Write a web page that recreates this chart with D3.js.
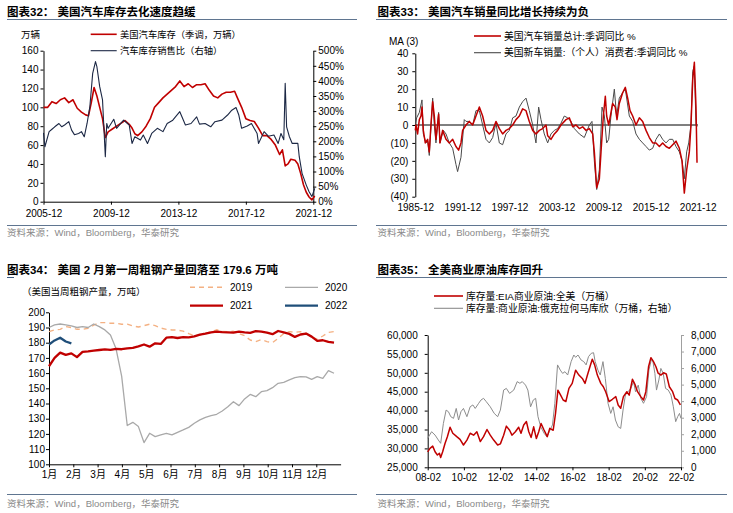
<!DOCTYPE html>
<html><head><meta charset="utf-8">
<script src="https://cdn.jsdelivr.net/npm/d3@7"></script>
<style>body{margin:0;background:#fff}svg{display:block}</style>
</head><body><svg id="c" width="733" height="513"></svg>
<script>
// ---------------- DATA ----------------
// Panel 1: US auto inventory (万辆) and inventory/sales ratio (%)
const p1InvDates = ["2005-12","2006-03","2006-06","2006-09","2006-12","2007-03","2007-06","2007-09","2007-12","2008-03","2008-06","2008-08","2008-10","2008-12","2009-02","2009-04","2009-06","2009-08","2009-10","2010-01","2010-04","2010-07","2010-10","2011-01","2011-03","2011-05","2011-07","2011-10","2012-01","2012-04","2012-07","2012-10","2013-01","2013-04","2013-07","2013-10","2014-01","2014-04","2014-07","2014-10","2015-01","2015-04","2015-07","2015-10","2016-01","2016-04","2016-07","2016-10","2017-01","2017-04","2017-06","2017-09","2017-12","2018-03","2018-06","2018-09","2018-12","2019-03","2019-06","2019-09","2019-12","2020-02","2020-04","2020-06","2020-08","2020-11","2021-01","2021-03","2021-05","2021-07","2021-09","2021-11","2022-01"];
const p1Inventory = [100,100,106,104,108,110,105,108,99,95,92,91,105,121,112,100,88,68,74,77,80,83,86,82,78,72,70,74,80,88,100,105,110,114,118,122,128,122,125,121,124,124,125,118,112,110,114,116,116,117,110,100,88,86,85,78,70,70,66,60,50,55,38,40,45,44,40,30,18,10,5,2,6];
const p1RatioDates = ["2005-12","2006-01","2006-04","2006-06","2006-08","2006-11","2007-01","2007-03","2007-06","2007-08","2007-10","2008-01","2008-03","2008-05","2008-07","2008-09","2008-11","2009-01","2009-02","2009-04","2009-06","2009-08","2009-09","2009-10","2010-02","2010-04","2010-07","2010-09","2011-01","2011-03","2011-05","2011-09","2011-11","2012-02","2012-05","2012-09","2013-01","2013-04","2013-08","2014-01","2014-05","2014-09","2015-01","2015-03","2015-07","2015-11","2016-02","2016-07","2016-11","2017-02","2017-05","2017-07","2017-09","2018-01","2018-04","2018-08","2018-09","2019-01","2019-04","2019-08","2019-11","2020-01","2020-03","2020-04","2020-05","2020-07","2020-09","2021-01","2021-02","2021-04","2021-07","2021-09","2021-11","2022-01"];
const p1Ratio = [228,182,232,240,248,259,248,254,265,237,222,226,232,215,259,315,425,464,447,381,337,149,259,243,273,243,259,270,254,193,215,204,221,193,226,243,232,259,270,298,254,259,281,257,259,248,265,270,287,303,312,287,243,251,259,226,193,232,217,221,193,226,205,392,248,215,193,193,149,94,55,33,17,44];
const p1XTicks = ["2005-12","2009-12","2013-12","2017-12","2021-12"];

// Panel 2: US auto sales YoY (3M MA, %), decimal years
const p2TotalT = [1985.92,1986.00,1986.21,1986.43,1986.64,1986.77,1986.94,1987.19,1987.49,1987.70,1987.91,1988.13,1988.34,1988.55,1988.89,1989.06,1989.40,1989.83,1990.25,1990.68,1991.10,1991.44,1991.74,1991.95,1992.38,1992.80,1993.23,1993.65,1994.08,1994.50,1994.93,1995.35,1995.78,1996.20,1996.63,1997.05,1997.48,1997.90,1998.33,1998.75,1999.18,1999.60,2000.03,2000.45,2000.88,2001.30,2001.73,2002.15,2002.58,2002.79,2003.21,2003.64,2004.06,2004.49,2005.13,2005.55,2005.98,2006.40,2006.83,2007.25,2007.68,2008.10,2008.53,2008.74,2009.04,2009.38,2009.59,2009.89,2010.14,2010.31,2010.57,2010.78,2011.07,2011.41,2011.63,2011.92,2012.35,2012.69,2012.99,2013.29,2013.63,2014.05,2014.48,2014.90,2015.33,2015.75,2016.18,2016.60,2017.03,2017.45,2017.88,2018.30,2018.73,2019.15,2019.58,2019.92,2020.21,2020.51,2020.85,2021.06,2021.28,2021.49,2021.70,2021.83];
const p2Total = [-3,0,-5,3,5,10,-3,-10,-8,-15,0,13,5,-8,6,-10,-3,-8,-10,-8,-12,-14,-10,-3,0,2,0,5,10,5,-3,-5,-3,2,-2,-5,-3,-2,0,3,5,9,8,2,-3,-5,-3,-2,0,-6,-8,-5,-3,0,3,4,-1,0,-2,-1,-3,-2,-5,-15,-35,-30,-15,5,16,5,0,5,12,10,3,12,18,21,15,8,5,0,4,2,-3,-7,-10,-10,-12,-10,-12,-13,-11,-9,-13,-20,-38,-25,-15,0,25,35,10,-21];
const p2ConsT = [1985.92,1986.09,1986.43,1986.77,1986.94,1987.28,1987.49,1987.70,1988.13,1988.34,1988.55,1988.89,1989.06,1989.49,1989.83,1990.25,1990.68,1991.10,1991.31,1991.74,1992.16,1992.38,1992.80,1993.23,1993.65,1994.08,1994.50,1994.93,1995.35,1995.78,1996.20,1996.63,1997.05,1997.48,1997.90,1998.33,1998.75,1999.18,1999.60,2000.03,2000.45,2000.88,2001.30,2001.64,2001.94,2002.36,2002.79,2003.21,2003.64,2004.06,2004.49,2004.91,2005.34,2005.76,2006.19,2006.83,2007.46,2008.10,2008.44,2008.74,2009.04,2009.38,2009.72,2010.02,2010.31,2010.57,2010.86,2011.29,2011.58,2011.92,2012.35,2012.69,2013.20,2013.63,2014.05,2014.48,2014.90,2015.33,2015.75,2016.18,2016.60,2017.03,2017.45,2017.88,2018.30,2018.73,2019.15,2019.58,2019.92,2020.21,2020.51,2020.77,2021.06,2021.28,2021.49,2021.70,2021.83];
const p2Cons = [0,4,7,14,-5,-10,-9,-17,15,0,-10,7,-10,-3,-5,-10,-13,-22,-26,-18,3,2,2,0,8,8,0,-8,-10,-7,1,-10,-11,-5,-3,4,5,10,13,15,8,0,-10,10,3,-5,-10,-5,-3,-2,1,5,4,2,-2,-5,-7,0,2,-20,-36,-25,10,5,-10,-8,5,20,5,15,18,20,5,2,-5,-8,-10,-12,-14,-13,-8,-5,-8,-10,-8,-8,-12,-15,-20,-30,-15,-10,0,30,33,0,-1];
const p2XTicks = ["1985-12","1991-12","1997-12","2003-12","2009-12","2015-12","2021-12"];

// Panel 3: US weekly crude steel output (万吨), week index from Jan 1
const p3Y2019 = [187.3,188.4,188.8,190.6,190,188.8,188.8,189.5,191.5,193.2,193.2,192.8,192.8,192.1,192.2,191,190.3,191.2,192.2,191.2,189.6,188.8,188.4,188.3,187.6,186,184.6,185,186.3,187,188.5,187.4,187.3,187.5,186,184.6,181.8,180.7,182,180.7,180.1,182.8,186,187.3,186.8,187.3,186.2,183.8,182.3,184.4,186.8,187.3];
const p3Y2020 = [190,191.7,192.3,191.7,191,190,190.6,190,192.3,190.6,188.4,185.1,176,158,125.5,127.6,124.8,114.3,120.4,118.2,119.3,120.4,119.3,121,122.6,124.3,127,129.2,130.9,132,132.9,135.1,137.9,141.2,138.6,143,146,144.5,147.8,148.5,150.4,153.3,153.9,155.5,157,157.7,157.5,155.9,157.7,156.6,161.6,159.9];
const p3Y2021 = [164.5,170,173.5,172,173,170.5,174,174.3,174.8,175.2,175.6,175.3,176,175.7,176.3,176.6,177.6,178.8,177.4,179.6,179.2,183.3,183.6,183.1,183.6,183.5,184.2,185.3,186,186.8,187.3,187,186.8,186.6,187.3,186.8,186.5,187.6,187.3,186.6,185.6,187.7,186.8,185.8,183.8,185.4,186,184,181.2,181.6,180.5,180];
const p3Y2022 = [178.8,181.5,183.3,180.8,179.6];
const p3Months = ["1月","2月","3月","4月","5月","6月","7月","8月","9月","10月","11月","12月"];

// Panel 4: US commercial crude stocks (万桶) and Cushing (万桶, right axis), decimal years
const p4UsT = [2008.08,2008.21,2008.36,2008.49,2008.62,2008.73,2008.80,2008.91,2009.04,2009.17,2009.32,2009.47,2009.69,2009.87,2010.06,2010.25,2010.43,2010.62,2010.80,2010.99,2011.17,2011.36,2011.54,2011.73,2011.95,2012.10,2012.28,2012.43,2012.61,2012.74,2012.93,2013.11,2013.24,2013.39,2013.54,2013.67,2013.80,2013.94,2014.09,2014.22,2014.35,2014.50,2014.69,2014.83,2015.02,2015.15,2015.28,2015.43,2015.57,2015.72,2015.89,2016.07,2016.26,2016.44,2016.63,2016.78,2016.90,2017.05,2017.18,2017.31,2017.46,2017.65,2017.79,2017.92,2018.11,2018.29,2018.48,2018.61,2018.75,2018.90,2019.09,2019.22,2019.40,2019.55,2019.68,2019.86,2020.01,2020.14,2020.29,2020.42,2020.57,2020.70,2020.82,2020.97,2021.12,2021.27,2021.44,2021.62,2021.75,2021.90,2022.05];
const p4Us = [29100,30000,30600,29100,28250,28700,27600,29100,31300,33100,35600,34000,33100,32400,30900,32200,34000,33500,34400,31800,33100,35000,33500,32200,30900,31200,33500,35900,34800,33500,34400,35600,34000,36200,37100,34400,32900,35700,32600,34400,36600,35000,33100,35300,34800,39300,45400,44100,42800,42400,45900,47200,50700,49400,48500,47200,49200,51600,53600,52100,49400,47200,46300,45000,42400,43000,43700,41500,40600,43700,45000,44100,48300,46800,45000,43700,42800,45000,51600,54000,52900,51600,49900,49400,50000,49700,46300,45000,43200,42800,41500];
const p4CushT = [2008.08,2008.30,2008.49,2008.67,2008.80,2008.95,2009.10,2009.23,2009.36,2009.51,2009.66,2009.79,2009.92,2010.06,2010.25,2010.43,2010.58,2010.71,2010.90,2011.03,2011.17,2011.32,2011.54,2011.76,2011.95,2012.10,2012.28,2012.43,2012.61,2012.84,2013.03,2013.18,2013.31,2013.49,2013.62,2013.77,2013.92,2014.05,2014.18,2014.33,2014.52,2014.67,2014.80,2014.98,2015.11,2015.26,2015.41,2015.54,2015.67,2015.82,2016.01,2016.16,2016.26,2016.39,2016.56,2016.71,2016.84,2016.97,2017.12,2017.25,2017.34,2017.49,2017.62,2017.77,2017.90,2018.05,2018.20,2018.33,2018.46,2018.61,2018.75,2018.88,2019.01,2019.16,2019.31,2019.46,2019.57,2019.72,2019.86,2020.01,2020.18,2020.31,2020.42,2020.51,2020.64,2020.73,2020.86,2020.97,2021.10,2021.23,2021.38,2021.53,2021.66,2021.79,2021.90,2022.00,2022.08];
const p4Cush = [1750,2150,1950,1650,1450,2650,3460,3360,3060,2960,3560,2860,3360,3560,3060,3660,3770,3560,3870,4070,4170,3970,3660,3260,3060,3460,4670,4770,4470,4670,5180,5080,5180,4970,4670,3660,4070,4170,3060,2450,2050,1850,2150,2560,3870,6190,5880,5680,5780,5580,6390,6790,6650,6790,6490,6390,6190,6690,6890,6930,6390,5880,5580,6390,5380,3870,3260,3660,2860,2450,2350,3460,4370,4570,4770,5180,4570,4970,4170,3870,4270,5880,6390,6530,5680,4670,5280,5980,5680,4770,4670,4370,3660,2760,3060,3260,2960];
const p4XTicks = ["08-02","10-02","12-02","14-02","16-02","18-02","20-02","22-02"];

// ---------------- HELPERS ----------------
const svg = d3.select('#c');
const FONT = "'Liberation Sans','Noto Sans CJK SC',sans-serif";
const SEP = '#5f7590';
const RED = '#c00000';

function txt(x, y, s, o = {}) {
  return svg.append('text').attr('x', x).attr('y', y).text(s)
    .attr('font-family', FONT).attr('font-size', o.size || 10)
    .attr('font-weight', o.weight || 'normal').attr('fill', o.fill || '#000')
    .attr('text-anchor', o.anchor || 'start');
}
function seg(x1, y1, x2, y2, color, w, dash) {
  const l = svg.append('line').attr('x1', x1).attr('y1', y1).attr('x2', x2).attr('y2', y2)
    .attr('stroke', color).attr('stroke-width', w || 1);
  if (dash) l.attr('stroke-dasharray', dash);
  return l;
}
function styleAxis(g, color, size) {
  g.selectAll('path,line').attr('stroke', color || '#000').attr('stroke-width', 1);
  g.selectAll('text').attr('font-family', FONT).attr('font-size', size || 10).attr('fill', '#000');
}
function path(xs, ys, x, y, color, w, dash) {
  const pts = xs.map((t, i) => [x(t), y(ys[i])]);
  const p = svg.append('path').attr('d', d3.line()(pts)).attr('fill', 'none')
    .attr('stroke', color).attr('stroke-width', w).attr('stroke-linejoin', 'round');
  if (dash) p.attr('stroke-dasharray', dash);
  return p;
}
const ym = s => { const [a, b] = s.split('-').map(Number); return a + (b - 1) / 12; };
const yy = s => { const [a, b] = s.split('-').map(Number); return 2000 + a + (b - 1) / 12; };
const SRC = '资料来源：Wind，Bloomberg，华泰研究';

// ---------------- FRAMES ----------------
txt(7, 16, '图表32：  美国汽车库存去化速度趋缓', {size: 11.5, weight: 'bold'});
seg(7, 19.5, 357, 19.5, SEP, 1);
seg(7, 225.5, 357, 225.5, SEP, 1);
txt(7, 235.5, SRC, {size: 9.5, fill: '#8a8a8a'});

txt(377.5, 16, '图表33：  美国汽车销量同比增长持续为负', {size: 11.5, weight: 'bold'});
seg(376, 19.5, 727, 19.5, SEP, 1);
seg(376, 225.5, 727, 225.5, SEP, 1);
txt(377.5, 235.5, SRC, {size: 9.5, fill: '#8a8a8a'});

txt(7, 274, '图表34：  美国 2 月第一周粗钢产量回落至 179.6 万吨', {size: 11.5, weight: 'bold'});
seg(7, 277.5, 14, 277.5, '#3d5a80', 1);
seg(7, 494.5, 357, 494.5, SEP, 1);
txt(7, 507, SRC, {size: 9.5, fill: '#8a8a8a'});

txt(377.5, 274, '图表35：  全美商业原油库存回升', {size: 11.5, weight: 'bold'});
seg(376, 277.5, 727, 277.5, SEP, 1);
seg(376, 494.5, 727, 494.5, SEP, 1);
txt(377.5, 507, SRC, {size: 9.5, fill: '#8a8a8a'});

// ---------------- PANEL 1 ----------------
{
  const x = d3.scaleLinear().domain([ym('2005-12'), ym('2021-12')]).range([43.5, 313.3]);
  const yL = d3.scaleLinear().domain([0, 160]).range([201.7, 50.7]);
  const yR = d3.scaleLinear().domain([0, 500]).range([201.7, 50.7]);
  let g = svg.append('g').attr('transform', 'translate(43.5,0)')
    .call(d3.axisLeft(yL).tickValues(d3.range(0, 161, 20)).tickSize(3).tickSizeOuter(0).tickPadding(2));
  styleAxis(g);
  g = svg.append('g').attr('transform', 'translate(313.3,0)')
    .call(d3.axisRight(yR).tickValues(d3.range(0, 501, 50)).tickSize(3).tickSizeOuter(0).tickPadding(2).tickFormat(d => d + '%'));
  styleAxis(g);
  g = svg.append('g').attr('transform', 'translate(0,201.7)')
    .call(d3.axisBottom(x).tickValues(p1XTicks.map(ym)).tickSize(3).tickSizeOuter(0).tickPadding(5).tickFormat((d, i) => p1XTicks[i]));
  styleAxis(g);
  path(p1InvDates.map(ym), p1Inventory, x, yL, RED, 1.6);
  path(p1RatioDates.map(ym), p1Ratio, x, yR, '#1c2845', 1.1);
  txt(21, 38, '万辆', {size: 9.5});
  seg(90.7, 34.3, 116.7, 34.3, RED, 1.6);
  txt(120, 37.6, '美国汽车库存（季调，万辆）', {size: 9.3});
  seg(90.7, 50.7, 116.7, 50.7, '#1c2845', 1.1);
  txt(120, 54, '汽车库存销售比（右轴）', {size: 9.3});
}

// ---------------- PANEL 2 ----------------
{
  const x = d3.scaleLinear().domain([ym('1985-12'), ym('2021-12')]).range([415.3, 697.7]);
  const y = d3.scaleLinear().domain([-40, 40]).range([196.7, 53.3]);
  let g = svg.append('g').attr('transform', 'translate(415.3,0)')
    .call(d3.axisLeft(y).tickValues(d3.range(-40, 41, 10)).tickSize(3).tickSizeOuter(0).tickPadding(4)
      .tickFormat(d => d < 0 ? '(' + (-d) + ')' : String(d)));
  styleAxis(g);
  g = svg.append('g').attr('transform', 'translate(0,201)')
    .call(d3.axisBottom(x).tickValues(p2XTicks.map(ym)).tickSize(0).tickPadding(3).tickFormat((d, i) => p2XTicks[i]));
  g.select('.domain').remove();
  styleAxis(g);
  seg(415.3, y(0), 698, y(0), '#000', 1);
  path(p2ConsT, p2Cons, x, y, '#4a4a4a', 1.0);
  path(p2TotalT, p2Total, x, y, RED, 1.5);
  txt(389, 45, 'MA (3)', {size: 10});
  seg(474, 36, 501, 36, RED, 1.6);
  txt(504, 39.5, '美国汽车销量总计:季调同比 %', {size: 9.8});
  seg(474, 52.7, 501, 52.7, '#4a4a4a', 1.1);
  txt(504, 56.2, '美国新车销量:（个人）消费者:季调同比 %', {size: 9.8});
}

// ---------------- PANEL 3 ----------------
{
  const x = d3.scaleLinear().domain([0, 12]).range([49, 340.6]);
  const y = d3.scaleLinear().domain([100, 200]).range([464.3, 312.3]);
  const wk = i => i * 7 / 30.4375;
  let g = svg.append('g').attr('transform', 'translate(49,0)')
    .call(d3.axisLeft(y).tickValues(d3.range(100, 201, 10)).tickSize(3).tickSizeOuter(0).tickPadding(1));
  styleAxis(g);
  g = svg.append('g').attr('transform', 'translate(0,464.3)')
    .call(d3.axisBottom(x).tickValues(d3.range(0, 12)).tickSize(3).tickSizeOuter(0).tickPadding(4).tickFormat((d, i) => p3Months[i]));
  styleAxis(g);
  const idx = a => a.map((_, i) => wk(i));
  path(idx(p3Y2019), p3Y2019, x, y, '#f4b183', 1.4, '5,4');
  path(idx(p3Y2020), p3Y2020, x, y, '#a9a9a9', 1.3);
  path(idx(p3Y2021), p3Y2021, x, y, RED, 2.3);
  path(idx(p3Y2022), p3Y2022, x, y, '#1f4e79', 2.3);
  txt(22, 295, '（美国当周粗钢产量，万吨）', {size: 9.5});
  seg(190, 287.3, 223, 287.3, '#f4b183', 1.4, '5,4');
  txt(230, 291, '2019', {size: 10});
  seg(285, 287.3, 318, 287.3, '#a9a9a9', 1.3);
  txt(325, 291, '2020', {size: 10});
  seg(190, 305.7, 223, 305.7, RED, 2.3);
  txt(230, 309.4, '2021', {size: 10});
  seg(285, 305.7, 318, 305.7, '#1f4e79', 2.3);
  txt(325, 309.4, '2022', {size: 10});
}

// ---------------- PANEL 4 ----------------
{
  const x = d3.scaleLinear().domain([yy('08-02'), yy('22-02')]).range([427.7, 681]);
  const yL = d3.scaleLinear().domain([25000, 60000]).range([467.3, 335]);
  const yR = d3.scaleLinear().domain([0, 8000]).range([467.3, 335]);
  let g = svg.append('g').attr('transform', 'translate(427.7,0)')
    .call(d3.axisLeft(yL).tickValues(d3.range(25000, 60001, 5000)).tickSize(3).tickSizeOuter(0).tickPadding(7).tickFormat(d3.format(',')));
  styleAxis(g);
  g = svg.append('g').attr('transform', 'translate(681,0)')
    .call(d3.axisRight(yR).tickValues(d3.range(0, 8001, 1000)).tickSize(3).tickSizeOuter(0).tickPadding(7).tickFormat(d3.format(',')));
  styleAxis(g, '#a0a0a0');
  g = svg.append('g').attr('transform', 'translate(0,467.3)')
    .call(d3.axisBottom(x).tickValues(p4XTicks.map(yy)).tickSize(3).tickSizeOuter(0).tickPadding(4).tickFormat((d, i) => p4XTicks[i]));
  styleAxis(g);
  path(p4CushT, p4Cush, x, yR, '#8c8c8c', 1.0);
  path(p4UsT, p4Us, x, yL, RED, 1.5);
  seg(434, 296, 463, 296, RED, 1.6);
  txt(466, 299.5, '库存量:EIA商业原油:全美（万桶）', {size: 9.8});
  seg(434, 308.3, 463, 308.3, '#8c8c8c', 1.1);
  txt(466, 311.8, '库存量:商业原油:俄克拉何马库欣（万桶，右轴）', {size: 9.8});
}
</script></body></html>
